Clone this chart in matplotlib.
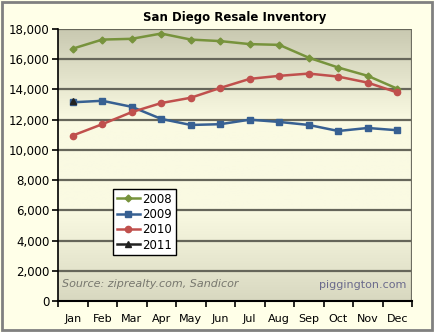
import numpy as np
import matplotlib
matplotlib.use('Agg')
import matplotlib.pyplot as plt
from matplotlib.colors import LinearSegmentedColormap
from matplotlib.patches import Rectangle

months = ['Jan', 'Feb', 'Mar', 'Apr', 'May', 'Jun', 'Jul', 'Aug', 'Sep', 'Oct', 'Nov', 'Dec']
inv_2008 = [16700, 17300, 17350, 17700, 17300, 17200, 17000, 16950, 16100, 15450, 14900, 14050]
inv_2009 = [13150, 13250, 12850, 12050, 11650, 11700, 12000, 11850, 11650, 11250, 11450, 11300]
inv_2010 = [10950, 11700, 12500, 13100, 13450, 14100, 14700, 14900, 15050, 14850, 14450, 13800]
inv_2011 = [13250]

plt.rcParams['font.family'] = ['DejaVu Sans']

fig = plt.figure(figsize=(4.34, 3.32), dpi=100, facecolor='#FFFFE8')
ax = fig.add_axes([58 / 434, 31 / 332, 354 / 434, 272 / 332])

# gradient plot area background
grad = LinearSegmentedColormap.from_list('bg', ['#D8D8C0', '#FAFAE2', '#FAFAE2', '#C9C9B1'])
ax.imshow(np.linspace(0, 1, 256).reshape(-1, 1), aspect='auto', cmap=grad,
          extent=(-0.5, 11.5, 0, 18000), origin='lower', zorder=0)

x = np.arange(len(months))
for y in range(2000, 18001, 2000):
    ax.axhline(y, color='#66665A', lw=1.6, zorder=1)

ax.plot(x, inv_2008, color='#77933C', lw=1.8, marker='D', ms=3.5, label='2008', zorder=3)
ax.plot(x, inv_2009, color='#376092', lw=1.8, marker='s', ms=4.5, label='2009', zorder=3)
ax.plot(x, inv_2010, color='#C0504D', lw=1.8, marker='o', ms=4.5, label='2010', zorder=3)
ax.plot(x[:1], inv_2011, color='#222222', lw=1.8, marker='^', ms=5, label='2011', zorder=4)

ax.set_xlim(-0.5, 11.5)
ax.set_ylim(0, 18000)
ax.set_yticks(range(0, 18001, 2000))
ax.set_yticklabels([f'{v:,}' for v in range(0, 18001, 2000)], fontsize=8.5)
ax.set_xticks(x)
ax.set_xticklabels(months, fontsize=8)
ax.set_xticks(np.arange(-0.5, 12, 1), minor=True)
ax.tick_params(axis='x', which='major', length=0, pad=9)
ax.tick_params(axis='x', which='minor', length=4, width=1.2, direction='out', color='black')
ax.tick_params(axis='y', length=4, width=1.2, direction='out', color='black', pad=2)

for s in ['top', 'right']:
    ax.spines[s].set_visible(False)
ax.spines['left'].set_color('black')
ax.spines['left'].set_linewidth(1.2)
ax.spines['bottom'].set_color('black')
ax.spines['bottom'].set_linewidth(1.5)
ax.axvline(11.5, color='#6E6E62', lw=1.6, zorder=1)

ax.set_title('San Diego Resale Inventory', fontsize=8.5, fontweight='bold', pad=6)

ax.text(0.01, 0.045, 'Source: ziprealty.com, Sandicor', transform=ax.transAxes,
        fontsize=8, style='italic', color='#77776E', ha='left', va='bottom')
ax.text(0.985, 0.04, 'piggington.com', transform=ax.transAxes,
        fontsize=8, color='#6A6A8C', ha='right', va='bottom')

leg = ax.legend(loc='upper left', bbox_to_anchor=(55 / 354, 112 / 272), fontsize=8.5,
                frameon=True, fancybox=False, handlelength=2.0, handletextpad=0.2,
                borderpad=0.3, labelspacing=0.2, borderaxespad=0)
leg.get_frame().set_edgecolor('black')
leg.get_frame().set_facecolor('white')
leg.get_frame().set_alpha(1)
leg.get_frame().set_linewidth(1)

fig.patches.append(Rectangle((0.004, 0.006), 0.992, 0.988, transform=fig.transFigure,
                             fill=False, edgecolor='#808080', lw=2))

fig.savefig('out.png', dpi=100, facecolor=fig.get_facecolor())
